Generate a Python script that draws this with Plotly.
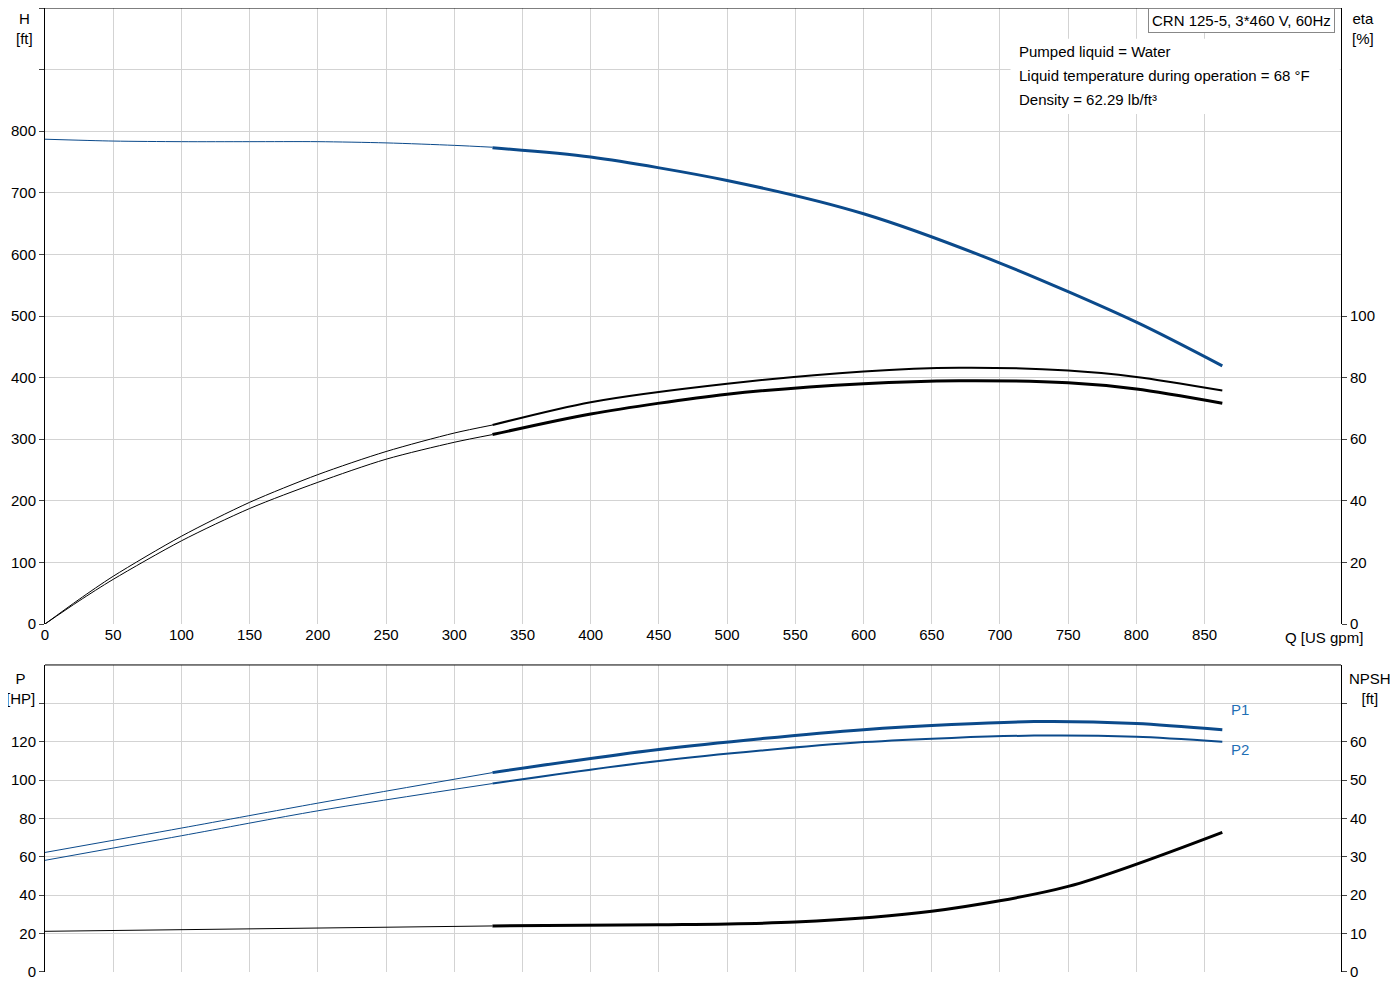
import plotly.graph_objects as go

# H curve (ft)
h_q_thin = [0, 50, 100, 150, 200, 250, 300, 328]
h_thin = [787, 784, 783, 783, 783, 781, 777, 774]
h_q_thick = [328, 400, 500, 600, 700, 800, 863]
h_thick = [773, 758, 720, 666, 586, 490, 419]

# eta curves (%)
e_q_thin = [0, 25, 50, 100, 150, 200, 250, 300, 328]
e1_thin = [0, 8, 15.5, 28.5, 39.5, 48.5, 56, 62, 64.6]
e2_thin = [0, 7.5, 14.5, 27, 37.5, 46, 53.5, 59, 61.5]
e_q_thick = [328, 400, 500, 600, 670, 750, 800, 863]
e1_thick = [64.6, 72, 78, 82, 83.2, 82.3, 80.2, 75.8]
e2_thick = [61.5, 68.2, 74.6, 78, 79, 78.3, 76.3, 71.7]

# Power (HP)
p_q_thin = [0, 100, 200, 328]
p1_thin = [62.3, 75, 88, 103.9]
p2_thin = [58.2, 71, 84, 98.2]
p_q_thick = [328, 450, 600, 725, 800, 863]
p1_thick = [103.9, 116, 126.3, 130.5, 129.5, 126.2]
p2_thick = [98.2, 110, 119.8, 123.2, 122.6, 120]

# NPSH (ft)
n_q_thin = [0, 328]
n_thin = [10.6, 12]
n_q_thick = [328, 450, 550, 650, 750, 863]
n_thick = [12, 12.3, 13, 15.8, 22.3, 36.4]

x_ticks = list(range(0, 900, 50))

BLUE = "#0b4a8b"
fig = go.Figure()
def add(x, y, color, width, xa, ya):
    fig.add_trace(go.Scatter(x=x, y=y, mode="lines",
                             line=dict(color=color, width=width, shape="spline", smoothing=0.8),
                             xaxis=xa, yaxis=ya, showlegend=False, hoverinfo="skip"))

add(h_q_thin, h_thin, BLUE, 1, "x", "y")
add(h_q_thick, h_thick, BLUE, 3, "x", "y")
add(e_q_thin, e1_thin, "black", 1, "x", "y2")
add(e_q_thin, e2_thin, "black", 1, "x", "y2")
add(e_q_thick, e1_thick, "black", 2, "x", "y2")
add(e_q_thick, e2_thick, "black", 3, "x", "y2")
add(p_q_thin, p1_thin, BLUE, 1, "x2", "y3")
add(p_q_thin, p2_thin, BLUE, 1, "x2", "y3")
add(p_q_thick, p1_thick, BLUE, 3, "x2", "y3")
add(p_q_thick, p2_thick, BLUE, 2, "x2", "y3")
add(n_q_thin, n_thin, "black", 1, "x2", "y4")
add(n_q_thick, n_thick, "black", 3, "x2", "y4")

grid = "#d3d3d3"
tf = dict(family="Liberation Sans, Arial", size=15, color="black")
common_x = dict(range=[0, 950], tickvals=x_ticks, showgrid=True, gridcolor=grid, zeroline=False,
                showline=False, ticks="", tickfont=tf)
TOP_LO = 0.361
BOT_HI = 0.3185
fig.update_layout(
    width=1400, height=1000, plot_bgcolor="white", paper_bgcolor="white",
    margin=dict(l=37, r=67, t=0, b=36),
    font=dict(family="Liberation Sans, Arial", size=15, color="black"),
    xaxis=dict(common_x, domain=[0, 1], anchor="y"),
    xaxis2=dict(common_x, domain=[0, 1], anchor="y3", showticklabels=False),
    yaxis=dict(domain=[TOP_LO, 1], range=[0, 1000], tickvals=list(range(0, 1001, 100)),
               ticktext=[str(v) for v in range(0, 900, 100)] + ["", ""],
               showgrid=True, gridcolor=grid, zeroline=False, showline=True, linecolor="black",
               ticks="outside", ticklen=5, tickfont=tf),
    yaxis2=dict(overlaying="y", side="right", anchor="x", range=[0, 200],
                tickvals=[0, 20, 40, 60, 80, 100], showgrid=False, zeroline=False,
                showline=True, linecolor="black", ticks="outside", ticklen=5, tickfont=tf),
    yaxis3=dict(domain=[0, BOT_HI], anchor="x2", range=[0, 160], tickvals=list(range(0, 141, 20)),
                ticktext=[str(v) for v in range(0, 121, 20)] + [""],
                showgrid=True, gridcolor=grid, zeroline=False, showline=True, linecolor="black",
                ticks="outside", ticklen=5, tickfont=tf),
    yaxis4=dict(overlaying="y3", side="right", anchor="x2", range=[0, 80],
                tickvals=list(range(0, 71, 10)), ticktext=[str(v) for v in range(0, 61, 10)] + [""],
                showgrid=False, zeroline=False,
                showline=True, linecolor="black", ticks="outside", ticklen=5, tickfont=tf),
)
fig.add_shape(type="line", xref="paper", yref="paper", x0=0, x1=1, y0=1, y1=1, line=dict(color="black", width=1))
fig.add_shape(type="line", xref="paper", yref="paper", x0=0, x1=1, y0=BOT_HI, y1=BOT_HI, line=dict(color="black", width=1))
fig.add_shape(type="rect", xref="paper", yref="paper", x0=0.745, x1=0.999, y0=0.89, y1=0.968,
              fillcolor="white", line=dict(width=0), layer="above")

def ann(x, y, text, xanchor="left", yanchor="top", color="black", **kw):
    fig.add_annotation(xref="paper", yref="paper", x=x, y=y, text=text, showarrow=False,
                       xanchor=xanchor, yanchor=yanchor, align="center", font=dict(color=color, size=15), **kw)

ann(0.995, 1.0, "CRN 125-5, 3*460 V, 60Hz", xanchor="right", bgcolor="white",
    bordercolor="#888888", borderwidth=1, borderpad=3)
ann(0.75, 0.966, "Pumped liquid = Water")
ann(0.75, 0.941, "Liquid temperature during operation = 68 °F")
ann(0.75, 0.916, "Density = 62.29 lb/ft³")
ann(-0.016, 1.0, "H<br>[ft]", xanchor="center")
ann(1.017, 1.0, "eta<br>[%]", xanchor="center")
ann(0.955, 0.358, "Q [US gpm]", xanchor="left", yanchor="top")
ann(-0.019, 0.315, "P<br>[HP]", xanchor="center")
ann(1.022, 0.315, "NPSH<br>[ft]", xanchor="center")
fig.add_annotation(x=868, y=137, xref="x2", yref="y3", text="P1", showarrow=False, xanchor="left",
                   font=dict(color="#1f6fb5", size=15))
fig.add_annotation(x=868, y=116, xref="x2", yref="y3", text="P2", showarrow=False, xanchor="left",
                   font=dict(color="#1f6fb5", size=15))

fig.write_html("out.html")
